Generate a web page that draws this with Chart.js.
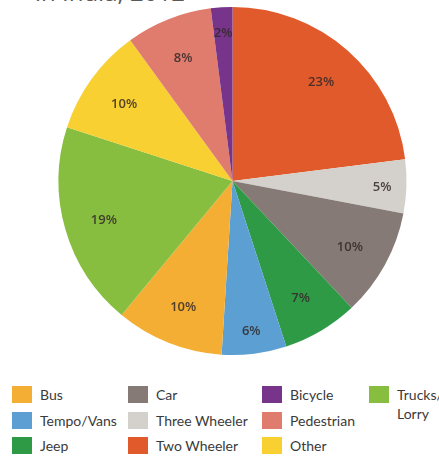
<!DOCTYPE html>
<html>
<head>
<meta charset="utf-8">
<script src="https://cdn.jsdelivr.net/npm/chart.js@4"></script>
<style>
  body { margin: 0; background: #fff; width: 439px; height: 466px; overflow: hidden; position: relative; font-family: "Open Sans", sans-serif; }
  #title { position: absolute; left: 35px; top: -20px; font-size: 24px; line-height: 24px; color: #5a5a5a; white-space: nowrap; }
  #pie { position: absolute; left: 0; top: 0; width: 439px; height: 380px; }
  #legend { position: absolute; left: 0; top: 386px; width: 439px; }
  .item { position: absolute; font-family: Lato, sans-serif; font-size: 14px; line-height: 19px; color: #3a3a3a; }
  .sw { position: absolute; left: 0; top: 0; width: 20px; height: 17px; }
  .lab { position: absolute; left: 28px; top: -1px; white-space: nowrap; }
</style>
</head>
<body>
<div id="title">in India, 2012</div>
<canvas id="pie" width="439" height="366"></canvas>
<div id="legend"></div>
<script>
// slices, clockwise from 12 o'clock
var categories = ['Two Wheeler', 'Three Wheeler', 'Car', 'Jeep', 'Tempo/Vans', 'Bus', 'Trucks/Lorry', 'Other', 'Pedestrian', 'Bicycle'];
var shares = [23, 5, 10, 7, 6, 10, 19, 10, 8, 2];
var colours = ['#E05A2B', '#D4D0CB', '#857A75', '#2F9A46', '#5B9FD3', '#F4AE33', '#88BE40', '#F8D031', '#E07C6E', '#76348A'];

// legend columns, as laid out under the pie
var legendCols = [
    ['Bus', 'Tempo/Vans', 'Jeep'],
    ['Car', 'Three Wheeler', 'Two Wheeler'],
    ['Bicycle', 'Pedestrian', 'Other'],
    ['Trucks/Lorry']
];

// percent labels inside the slices
var sliceLabels = {
    id: 'sliceLabels',
    afterDatasetsDraw: function(chart) {
        var ctx = chart.ctx;
        var meta = chart.getDatasetMeta(0);
        ctx.save();
        ctx.font = '600 13px "Open Sans", sans-serif';
        ctx.fillStyle = 'rgba(50,40,40,0.85)';
        ctx.textAlign = 'center';
        ctx.textBaseline = 'middle';
        meta.data.forEach(function(arc, i) {
            var p = arc.getProps(['x', 'y', 'startAngle', 'endAngle', 'outerRadius']);
            var mid = (p.startAngle + p.endAngle) / 2;
            var f = shares[i] < 7 ? 0.86 : 0.77;
            var r = p.outerRadius * f;
            ctx.fillText(shares[i] + '%', p.x + Math.cos(mid) * r, p.y + Math.sin(mid) * r + 2);
        });
        ctx.restore();
    }
};

new Chart(document.getElementById('pie'), {
    type: 'pie',
    data: {
        labels: categories,
        datasets: [{
            data: shares,
            backgroundColor: colours,
            borderWidth: 0
        }]
    },
    options: {
        responsive: false,
        animation: false,
        layout: { padding: { left: 26, right: 0, top: 7, bottom: 11 } },
        plugins: {
            legend: { display: false },
            tooltip: { enabled: false }
        }
    },
    plugins: [sliceLabels]
});

// html legend
var colX = [12, 128, 262, 369];
var legend = document.getElementById('legend');
legendCols.forEach(function(col, c) {
    col.forEach(function(name, r) {
        var item = document.createElement('div');
        item.className = 'item';
        item.style.left = colX[c] + 'px';
        item.style.top = (r * 25.5) + 'px';
        var sw = document.createElement('div');
        sw.className = 'sw';
        sw.style.background = colours[categories.indexOf(name)];
        var lab = document.createElement('div');
        lab.className = 'lab';
        if (name === 'Trucks/Lorry') lab.innerHTML = 'Trucks/<br>Lorry';
        else lab.textContent = name;
        item.appendChild(sw);
        item.appendChild(lab);
        legend.appendChild(item);
    });
});
</script>
</body>
</html>
